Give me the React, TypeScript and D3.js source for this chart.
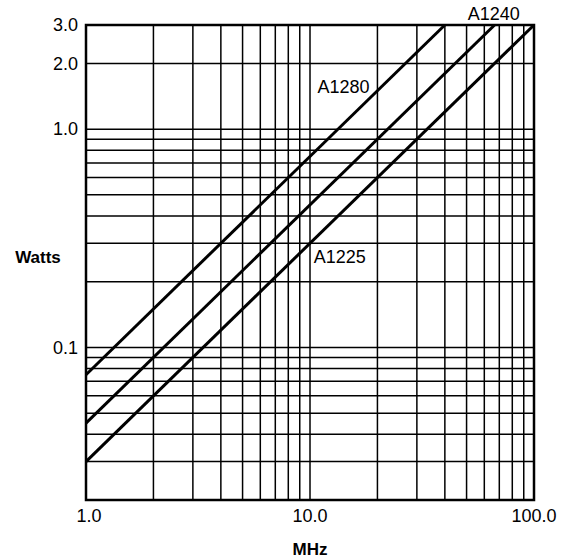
import React from "react";
import * as d3 from "d3";

// grid values (MHz / Watts)
const freqTicks = [1, 2, 3, 4, 5, 6, 7, 8, 9, 10, 20, 30, 40, 50, 60, 70, 80, 90, 100];
const wattTicks = [
  0.02, 0.03, 0.04, 0.05, 0.06, 0.07, 0.08, 0.09,
  0.1, 0.2, 0.3, 0.4, 0.5, 0.6, 0.7, 0.8, 0.9, 1, 2, 3,
];
const freqLabels = [1, 10, 100];
const wattLabels = [3, 2, 1, 0.1];

// device curves: [MHz, Watts] endpoints
const a1280 = [[1, 0.075], [40, 3.0]];
const a1240 = [[1, 0.045], [66.7, 3.0]];
const a1225 = [[1, 0.03], [100, 3.0]];
const series = [a1280, a1240, a1225];

// label anchors in data coords
const labelNames = ["A1280", "A1240", "A1225"];
const labelFreq = [10.8, 50.6, 10.4];
const labelWatt = [1.47, 3.16, 0.244];

const App = () => {
  const width = 568,
    height = 560;
  const margin = { top: 25, right: 34, bottom: 60, left: 86 };

  const x = d3
    .scaleLog()
    .domain([1, 100])
    .range([margin.left, width - margin.right]);
  const y = d3
    .scaleLog()
    .domain([0.02, 3])
    .range([height - margin.bottom, margin.top]);

  const line = d3
    .line<number[]>()
    .x((d) => x(d[0]))
    .y((d) => y(d[1]));

  const font = "'Liberation Sans', Arial, Helvetica, sans-serif";

  return (
    <svg
      width={width}
      height={height}
      style={{ position: "absolute", left: 0, top: 0, background: "#fff" }}
    >
      {/* grid */}
      <g stroke="#000" strokeWidth={1.5}>
        {freqTicks.map((f) => (
          <line key={"v" + f} x1={x(f)} x2={x(f)} y1={y(0.02)} y2={y(3)} />
        ))}
        {wattTicks.map((w) => (
          <line key={"h" + w} x1={x(1)} x2={x(100)} y1={y(w)} y2={y(w)} />
        ))}
      </g>

      {/* frame */}
      <rect
        x={x(1)}
        y={y(3)}
        width={x(100) - x(1)}
        height={y(0.02) - y(3)}
        fill="none"
        stroke="#000"
        strokeWidth={2.5}
      />

      {/* curves */}
      <g fill="none" stroke="#000" strokeWidth={3}>
        {series.map((s, i) => (
          <path key={i} d={line(s) || ""} />
        ))}
      </g>

      <g fontFamily={font} fontSize={18} fill="#000">
        {labelNames.map((n, i) => (
          <text key={n} x={x(labelFreq[i])} y={y(labelWatt[i])}>
            {n}
          </text>
        ))}
      </g>

      {/* axis labels */}
      <g fontFamily={font} fontSize={18} fill="#000">
        {wattLabels.map((w) => (
          <text key={w} x={78} y={y(w)} dy="0.35em" textAnchor="end">
            {w < 1 ? w.toFixed(1) : w.toFixed(1)}
          </text>
        ))}
        {freqLabels.map((f) => (
          <text key={f} x={x(f) + (f === 1 ? 3 : 0)} y={522} textAnchor="middle">
            {f.toFixed(1)}
          </text>
        ))}
      </g>
      <text
        x={38}
        y={263}
        textAnchor="middle"
        fontFamily={font}
        fontSize={17}
        fontWeight="bold"
      >
        Watts
      </text>
      <text
        x={310}
        y={555}
        textAnchor="middle"
        fontFamily={font}
        fontSize={17}
        fontWeight="bold"
      >
        MHz
      </text>
    </svg>
  );
};

export default App;
